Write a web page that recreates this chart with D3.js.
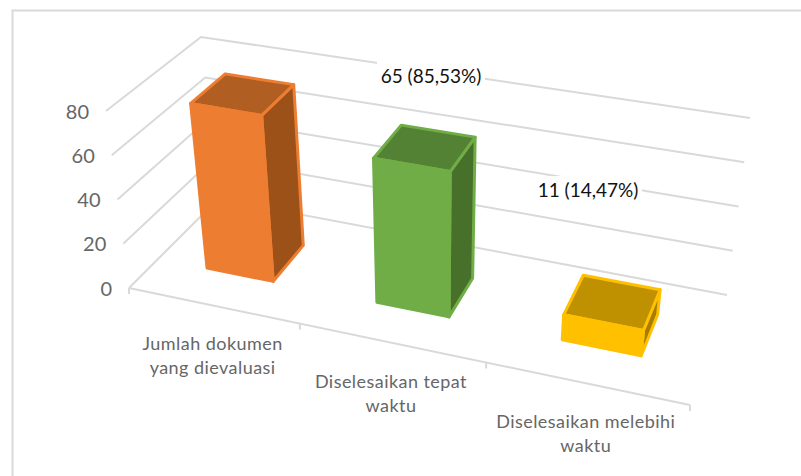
<!DOCTYPE html>
<html>
<head>
<meta charset="utf-8">
<script src="https://d3js.org/d3.v7.min.js"></script>
<style>
  html, body { margin: 0; padding: 0; background: white; }
  svg { display: block; }
</style>
</head>
<body>
<div id="chart"></div>
<script>
const categories = [
  ["Jumlah dokumen", "yang dievaluasi"],
  ["Diselesaikan tepat", "waktu"],
  ["Diselesaikan melebihi", "waktu"]
];
const values = [76, 65, 11];
const yTicks = [0, 20, 40, 60, 80];
const dataLabels = ["", "65 (85,53%)", "11 (14,47%)"];

const faceColors = ["#ED7D31", "#70AD47", "#FFC000"];
const topColors = ["#B15E22", "#548235", "#BF9000"];
const sideColors = ["#9C5119", "#47702A", "#A67D00"];

// manually placed labels in the original chart
const dataLabelPos = [null, [431, 76], [588, 190]];

const width = 801;
const height = 476;

const svg = d3.select("#chart").append("svg")
  .attr("width", width)
  .attr("height", height)
  .attr("viewBox", [0, 0, width, height]);

// frame, only top and left show in the crop
svg.append("path")
  .attr("fill", "none")
  .attr("stroke", "#d9d9d9")
  .attr("stroke-width", 2)
  .attr("d", `M12.5,${height}V10.5H${width}`);

// one scale per corner of the 3d box, x and y over the value domain
const corner = (x0, x80, y0, y80) => ({
  x: d3.scaleLinear().domain([0, 80]).range([x0, x80]),
  y: d3.scaleLinear().domain([0, 80]).range([y0, y80])
});
const frontLeft = corner(129, 106, 288, 111);
const frontRight = corner(690, 710, 405, 216);
const backLeft = corner(218, 201, 199, 37);
const backRight = corner(727, 750, 295, 118);

const band = d3.scaleBand()
  .domain(d3.range(categories.length))
  .range([0, 1])
  .paddingInner(0.6)
  .paddingOuter(0.3);

// right side of the box is closer to the camera
const bend = -0.124;
const persp = u => (1 + bend) * u / (1 + bend * u);

function project(u, t, v) {
  const s = persp(u);
  const mix = key => {
    const front = frontLeft[key](v) * (1 - s) + frontRight[key](v) * s;
    const back = backLeft[key](v) * (1 - s) + backRight[key](v) * s;
    return front * (1 - t) + back * t;
  };
  return [mix("x"), mix("y")];
}

const line = d3.line();
const grid = svg.append("g")
  .attr("fill", "none")
  .attr("stroke", "#d9d9d9")
  .attr("stroke-width", 2);

grid.selectAll("path.wall")
  .data(yTicks)
  .join("path")
  .attr("class", "wall")
  .attr("d", v => line([project(0, 0, v), project(0, 1, v), project(1, 1, v)]));

// floor front edge and category ticks
grid.append("path")
  .attr("d", line([project(0, 0, 0), project(1, 0, 0)]));

grid.selectAll("path.tick")
  .data(d3.range(categories.length + 1))
  .join("path")
  .attr("class", "tick")
  .attr("d", i => {
    const [x, y] = project(i / categories.length, 0, 0);
    return line([[x, y], [x, y + 6]]);
  });

// data labels sit on white boxes that hide the gridlines
const labelData = dataLabels.map((text, i) => ({ text, pos: dataLabelPos[i] })).filter(d => d.text);

svg.selectAll("rect.labelBox")
  .data(labelData)
  .join("rect")
  .attr("class", "labelBox")
  .attr("x", d => d.pos[0] - 54)
  .attr("y", d => d.pos[1] - 14)
  .attr("width", 108)
  .attr("height", 28)
  .attr("fill", "white");

svg.selectAll("text.dataLabel")
  .data(labelData)
  .join("text")
  .attr("class", "dataLabel")
  .attr("x", d => d.pos[0])
  .attr("y", d => d.pos[1])
  .attr("dy", "0.35em")
  .attr("text-anchor", "middle")
  .attr("font-family", "Lato, sans-serif")
  .attr("font-size", 19)
  .attr("fill", "#111")
  .text(d => d.text);

// bars
const depthFront = 0.335;
const depthBack = 0.72;

const bars = svg.append("g")
  .selectAll("g")
  .data(values)
  .join("g")
  .attr("stroke-width", 3)
  .attr("stroke-linejoin", "round")
  .attr("stroke", (d, i) => faceColors[i]);

const poly = pts => line(pts) + "Z";

bars.append("path")
  .attr("fill", (d, i) => sideColors[i])
  .attr("d", (d, i) => {
    const r = band(i) + band.bandwidth();
    return poly([project(r, depthFront, 0), project(r, depthBack, 0), project(r, depthBack, d), project(r, depthFront, d)]);
  });

bars.append("path")
  .attr("fill", (d, i) => topColors[i])
  .attr("d", (d, i) => {
    const l = band(i), r = l + band.bandwidth();
    return poly([project(l, depthFront, d), project(r, depthFront, d), project(r, depthBack, d), project(l, depthBack, d)]);
  });

bars.append("path")
  .attr("fill", (d, i) => faceColors[i])
  .attr("d", (d, i) => {
    const l = band(i), r = l + band.bandwidth();
    return poly([project(l, depthFront, 0), project(r, depthFront, 0), project(r, depthFront, d), project(l, depthFront, d)]);
  });

// value axis labels
svg.append("g")
  .selectAll("text")
  .data(yTicks)
  .join("text")
  .attr("x", v => project(0, 0, v)[0] - 17)
  .attr("y", v => project(0, 0, v)[1] + 0.5)
  .attr("dy", "0.35em")
  .attr("text-anchor", "end")
  .attr("font-family", "Lato, sans-serif")
  .attr("font-size", 20)
  .attr("fill", "#666")
  .text(v => v);

// category labels
const catText = svg.append("g")
  .selectAll("text")
  .data(categories)
  .join("text")
  .attr("text-anchor", "middle")
  .attr("font-family", "Lato, sans-serif")
  .attr("font-size", 18)
  .attr("letter-spacing", 0.45)
  .attr("fill", "#666");

catText.selectAll("tspan")
  .data((d, i) => d.map((t, j) => ({ t, j, i })))
  .join("tspan")
  .attr("x", d => project(band(d.i) + band.bandwidth() / 2, 0, 0)[0])
  .attr("y", d => project(band(d.i) + band.bandwidth() / 2, 0, 0)[1] + 45 + d.j * 24)
  .text(d => d.t);
</script>
</body>
</html>
